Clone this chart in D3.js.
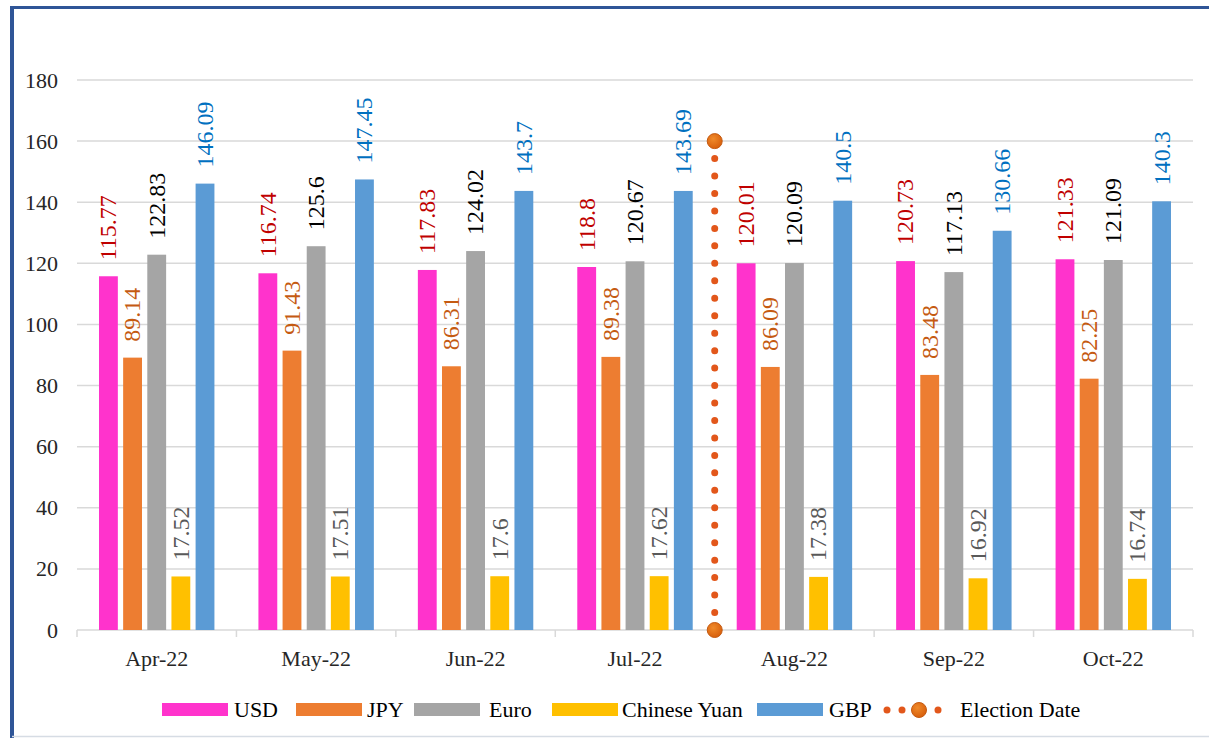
<!DOCTYPE html>
<html>
<head>
<meta charset="utf-8">
<script src="https://cdn.jsdelivr.net/npm/d3@7"></script>
<style>
  html, body { margin: 0; padding: 0; background: #fff; }
  svg { display: block; }
  svg text { font-family: "Liberation Serif", "DejaVu Serif", serif !important; }
</style>
</head>
<body>
<svg id="chart" width="1209" height="738" font-family="Liberation Serif, serif"></svg>
<script>
const months = ["Apr-22", "May-22", "Jun-22", "Jul-22", "Aug-22", "Sep-22", "Oct-22"];
const seriesNames = ["USD", "JPY", "Euro", "Chinese Yuan", "GBP"];
const usd  = [115.77, 116.74, 117.83, 118.8, 120.01, 120.73, 121.33];
const jpy  = [89.14, 91.43, 86.31, 89.38, 86.09, 83.48, 82.25];
const euro = [122.83, 125.6, 124.02, 120.67, 120.09, 117.13, 121.09];
const yuan = [17.52, 17.51, 17.6, 17.62, 17.38, 16.92, 16.74];
const gbp  = [146.09, 147.45, 143.7, 143.69, 140.5, 130.66, 140.3];
const yTicks = [0, 20, 40, 60, 80, 100, 120, 140, 160, 180];
const electionMonth = "Aug-22";
const electionRange = [0, 160];
const electionLabel = "Election Date";

(function () {
const FONT = "Liberation Serif, serif";
const seriesValues = [usd, jpy, euro, yuan, gbp];
const barColors   = ["#FF33CC", "#ED7D31", "#A5A5A5", "#FFC000", "#5B9BD5"];
const labelColors = ["#C00000", "#C55A11", "#000000", "#595959", "#0070C0"];

const svg = d3.select("#chart");
const W = 1209, H = 738;

// frame
svg.append("line").attr("x1", 12).attr("x2", W).attr("y1", 7.5).attr("y2", 7.5)
  .attr("stroke", "#2F5597").attr("stroke-width", 3);
svg.append("line").attr("x1", 12).attr("x2", 12).attr("y1", 6).attr("y2", H)
  .attr("stroke", "#2F5597").attr("stroke-width", 4);
svg.append("line").attr("x1", 12).attr("x2", W).attr("y1", 736.5).attr("y2", 736.5)
  .attr("stroke", "#D6DCE4").attr("stroke-width", 1.5);

const pLeft = 77, pRight = 1193, pTop = 80, pBottom = 630;

const x0 = d3.scaleBand().domain(months).range([pLeft, pRight]).paddingInner(0).paddingOuter(0);
const x1 = d3.scaleBand().domain(seriesNames).range([22, x0.bandwidth() - 22]).paddingInner(0.22).paddingOuter(0);
const y = d3.scaleLinear().domain([0, 180]).range([pBottom, pTop]);

// gridlines
svg.append("g").selectAll("line").data(yTicks.filter(d => d > 0)).join("line")
  .attr("x1", pLeft).attr("x2", pRight)
  .attr("y1", d => y(d)).attr("y2", d => y(d))
  .attr("stroke", "#D9D9D9").attr("stroke-width", 1.5);

// y axis labels
const yAxis = d3.axisLeft(y).tickValues(yTicks).tickSize(0).tickPadding(0);
const gy = svg.append("g").attr("transform", `translate(58,0)`).call(yAxis)
  .attr("font-family", FONT).attr("font-size", 22);
gy.select(".domain").remove();
gy.selectAll("text").attr("fill", "#262626");

// x axis
const xAxis = d3.axisBottom(x0).tickSize(0).tickPadding(20);
const gx = svg.append("g").attr("transform", `translate(0,${pBottom})`).call(xAxis)
  .attr("font-family", FONT).attr("font-size", 22);
gx.select(".domain").attr("stroke", "#D9D9D9").attr("stroke-width", 1.5)
  .attr("d", `M${pLeft},0H${pRight}`);
gx.selectAll("text").attr("fill", "#262626");
// boundary ticks
const bounds = months.map(m => x0(m)).concat([x0(months[months.length - 1]) + x0.bandwidth()]);
gx.append("g").selectAll("line").data(bounds).join("line")
  .attr("x1", d => d).attr("x2", d => d).attr("y1", 0).attr("y2", 7)
  .attr("stroke", "#D9D9D9").attr("stroke-width", 1.5);

// bars
const groups = svg.append("g").selectAll("g").data(months).join("g")
  .attr("transform", d => `translate(${x0(d)},0)`);

seriesNames.forEach((s, si) => {
  groups.append("rect")
    .attr("x", x1(s))
    .attr("width", x1.bandwidth())
    .attr("y", (d, i) => y(seriesValues[si][i]))
    .attr("height", (d, i) => y(0) - y(seriesValues[si][i]))
    .attr("fill", barColors[si]);
});

// labels
seriesNames.forEach((s, si) => {
  groups.append("text")
    .attr("transform", (d, i) => `translate(${x1(s) + x1.bandwidth() / 2},${y(seriesValues[si][i]) - 16}) rotate(-90)`)
    .attr("dy", "0.33em")
    .attr("text-anchor", "start")
    .attr("font-family", FONT)
    .attr("font-size", 24)
    .attr("fill", labelColors[si])
    .text((d, i) => seriesValues[si][i]);
});

// election line
const ex = x0(electionMonth);
const dotColor = "#E2571B";
svg.append("line")
  .attr("x1", ex).attr("x2", ex)
  .attr("y1", y(electionRange[0])).attr("y2", y(electionRange[1]))
  .attr("stroke", dotColor).attr("stroke-width", 7)
  .attr("stroke-linecap", "round")
  .attr("stroke-dasharray", `0 ${(y(electionRange[0]) - y(electionRange[1])) / 28}`);

const defs = svg.append("defs");
const grad = defs.append("radialGradient").attr("id", "bigdot").attr("cx", "40%").attr("cy", "35%").attr("r", "65%");
grad.append("stop").attr("offset", "0%").attr("stop-color", "#F08A2A");
grad.append("stop").attr("offset", "100%").attr("stop-color", "#D8600C");

svg.append("g").selectAll("circle").data(electionRange).join("circle")
  .attr("cx", ex).attr("cy", d => y(d)).attr("r", 7.5)
  .attr("fill", "url(#bigdot)").attr("stroke", "#C55A11").attr("stroke-width", 1);

// legend
const legendY = 710;
const legendItems = [
  { name: "USD", sx: 162, tx: 234 },
  { name: "JPY", sx: 296, tx: 367 },
  { name: "Euro", sx: 414, tx: 489 },
  { name: "Chinese Yuan", sx: 552, tx: 622 },
  { name: "GBP", sx: 757, tx: 829 }
];
const lg = svg.append("g").attr("font-family", FONT);
legendItems.forEach((it, i) => {
  lg.append("rect").attr("x", it.sx).attr("y", legendY - 7).attr("width", 66).attr("height", 13)
    .attr("fill", barColors[i]);
  lg.append("text").attr("x", it.tx).attr("y", legendY + 7).attr("font-size", 22).attr("fill", "#000")
    .text(it.name);
});
[887, 902, 938].forEach(cx => {
  lg.append("circle").attr("cx", cx).attr("cy", legendY).attr("r", 3.5).attr("fill", dotColor);
});
lg.append("circle").attr("cx", 919).attr("cy", legendY).attr("r", 7.5)
  .attr("fill", "url(#bigdot)").attr("stroke", "#C55A11").attr("stroke-width", 1);
lg.append("text").attr("x", 960).attr("y", legendY + 7).attr("font-size", 22).attr("fill", "#000")
  .text(electionLabel);
})();
</script>
</body>
</html>
